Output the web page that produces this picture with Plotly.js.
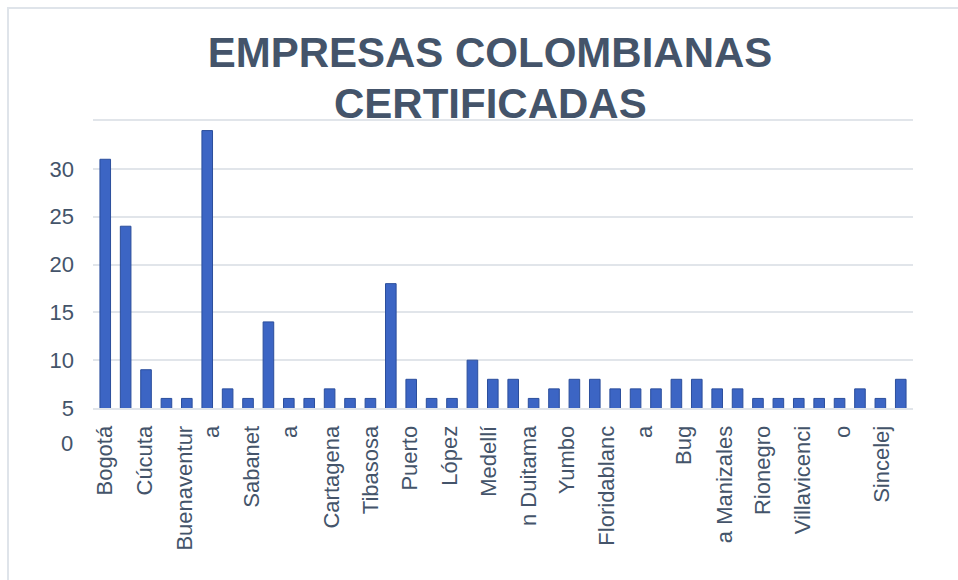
<!DOCTYPE html>
<html>
<head>
<meta charset="utf-8">
<script src="https://cdn.plot.ly/plotly-3.0.1.min.js"></script>
<style>
  html, body { margin: 0; padding: 0; background: #ffffff; }
  #wrap { position: relative; width: 958px; height: 580px; }
  #chart { width: 958px; height: 580px; }
  #frame { position: absolute; left: 7px; top: 7px; right: 0; bottom: 0;
           border-left: 2px solid #dfe4ea; border-top: 2px solid #dfe4ea;
           pointer-events: none; }
</style>
</head>
<body>
<div id="wrap">
  <div id="chart"></div>
  <div id="frame"></div>
</div>
<script>
// ---- data ----
const barIds = [1,2,3,4,5,6,7,8,9,10,11,12,13,14,15,16,17,18,19,20,
                21,22,23,24,25,26,27,28,29,30,31,32,33,34,35,36,37,38,39,40];
const empresas = [31,24,9,6,6,34,7,6,14,6,6,7,6,6,18,8,6,6,10,8,
                  8,6,7,8,8,7,7,7,8,8,7,7,6,6,6,6,6,7,6,8];
const categoryLabels = ['Bogotá','Cúcuta','Buenaventur','a','Sabanet','a','Cartagena',
  'Tibasosa','Puerto','López','Medellí','n Duitama','Yumbo','Floridablanc','a','Bug',
  'a Manizales','Rionegro','Villavicenci','o','Sincelej'];
const yTickValues = [5,10,15,20,25,30];
const zeroLabel = '0';
const titleLine1 = 'EMPRESAS COLOMBIANAS';
const titleLine2 = 'CERTIFICADAS';

// ---- layout helpers (where each wrapped label line sits along the axis) ----
const labelAt = [1,2.95,4.9,6.25,8.2,10.05,12.1,14.0,15.95,17.9,19.8,21.75,23.65,
                 25.6,27.45,29.35,31.4,33.25,35.2,37.15,39.05];

const ink = '#44546A';
const grid = '#e1e5ea';
const fontFam = '"Liberation Sans", Arial, sans-serif';
const titleFont = { family: fontFam, size: 42, color: ink, weight: 'bold' };

const trace = {
  type: 'bar',
  x: barIds,
  y: empresas,
  width: 0.52,
  marker: { color: '#3c65c4', line: { color: '#2b4e9c', width: 1 } },
  hoverinfo: 'x+y'
};

const layout = {
  width: 958, height: 580,
  margin: { l: 93, r: 45, t: 121, b: 172 },
  paper_bgcolor: '#ffffff',
  plot_bgcolor: '#ffffff',
  showlegend: false,
  font: { family: fontFam, color: ink },
  title: {
    text: titleLine1,
    font: titleFont,
    xref: 'container', x: 0.5115, xanchor: 'center',
    yref: 'container', y: 1 - 52/580, yanchor: 'middle'
  },
  xaxis: {
    type: 'linear',
    range: [0.4, 40.6],
    tickmode: 'array',
    tickvals: labelAt,
    ticktext: categoryLabels,
    tickangle: -90,
    tickfont: { family: fontFam, size: 22, color: ink },
    ticks: '',
    ticklabelstandoff: 7,
    showgrid: false,
    zeroline: false,
    showline: true, mirror: true, linecolor: grid, linewidth: 2
  },
  yaxis: {
    range: [5, 35],
    tickmode: 'array',
    tickvals: yTickValues,
    tickfont: { family: fontFam, size: 22, color: ink },
    ticks: '',
    ticklabelstandoff: 18,
    showgrid: true, gridcolor: grid, gridwidth: 2,
    zeroline: false,
    showline: false
  },
  annotations: [{
    text: zeroLabel, showarrow: false,
    xref: 'paper', x: 0, xanchor: 'right', xshift: -18,
    yref: 'paper', y: (408 - 443) / 287, yanchor: 'middle',
    font: { family: fontFam, size: 22, color: ink }
  }, {
    text: titleLine2, showarrow: false,
    xref: 'paper', x: (490 - 93) / 820, xanchor: 'center',
    yref: 'paper', y: (408 - 103.5) / 287, yanchor: 'middle',
    font: titleFont
  }]
};

Plotly.newPlot('chart', [trace], layout, { displayModeBar: false, staticPlot: true });
</script>
</body>
</html>
